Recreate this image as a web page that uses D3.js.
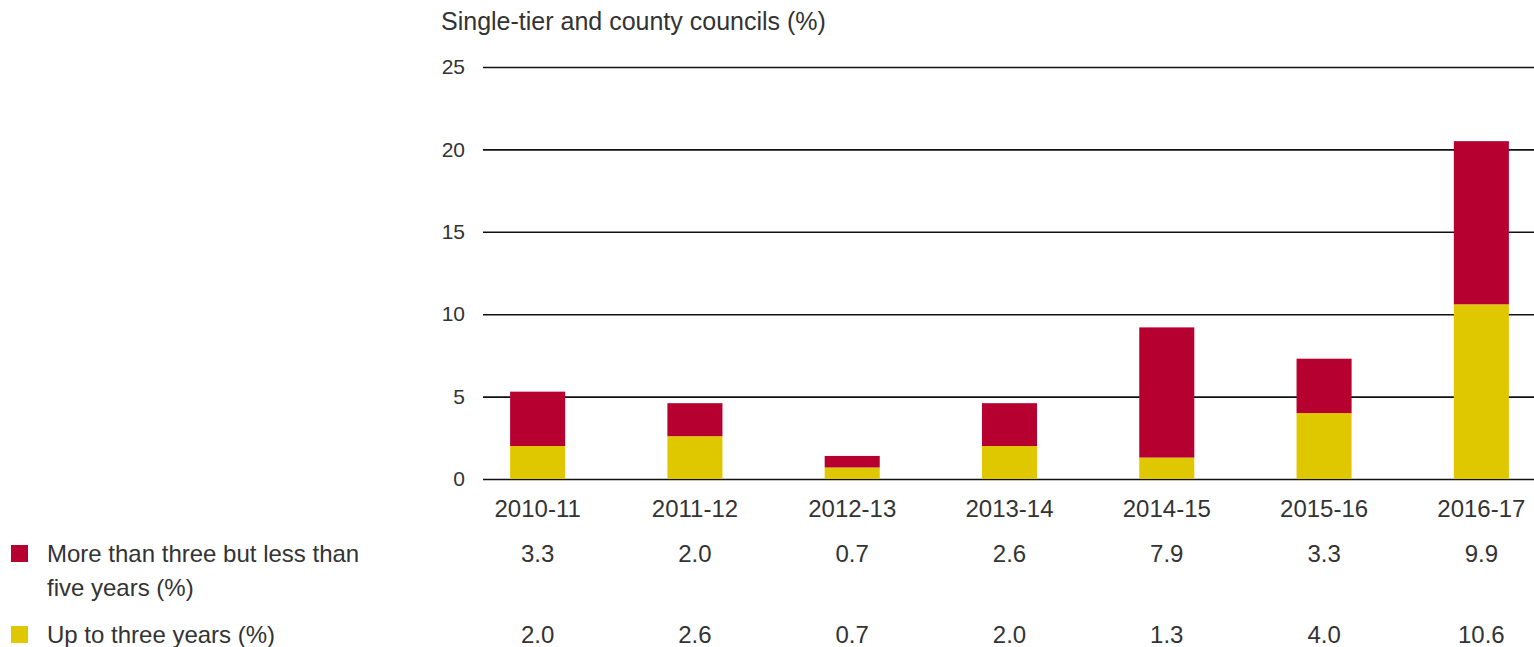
<!DOCTYPE html>
<head>
    <title>Councils chart</title>
    <script src="https://cdnjs.cloudflare.com/ajax/libs/d3/7.1.1/d3.min.js"></script>
    <style>
        body { margin: 0; background: #fff; }
        text { font-family: "Liberation Sans", Arial, sans-serif; fill: #333; }
    </style>
</head>
<body>
    <div id="chart"></div>
    <script type="text/javascript">
        const years = ["2010-11", "2011-12", "2012-13", "2013-14", "2014-15", "2015-16", "2016-17"];
        const upToThree = [2.0, 2.6, 0.7, 2.0, 1.3, 4.0, 10.6];
        const threeToFive = [3.3, 2.0, 0.7, 2.6, 7.9, 3.3, 9.9];
        const yTicks = [0, 5, 10, 15, 20, 25];
        const seriesNames = ["More than three but less than five years (%)", "Up to three years (%)"];
        const colors = ["#b50030", "#e0c800"];

        const width = 1534;
        const height = 647;

        const svg = d3.select("#chart")
            .append("svg")
            .attr("width", width)
            .attr("height", height);

        // Scales
        const xScale = d3.scaleBand()
            .domain(years)
            .range([459, 1560])
            .paddingInner(0.65)
            .paddingOuter(0.325);

        const yScale = d3.scaleLinear()
            .domain([0, 25])
            .range([479, 67]);

        // title
        svg.append("text")
            .attr("x", 441)
            .attr("y", 30)
            .attr("font-size", 25)
            .text("Single-tier and county councils (%)");

        // gridlines + y labels
        const yAxis = d3.axisLeft(yScale)
            .tickValues(yTicks)
            .tickSize(-(width - 483))
            .tickPadding(18);

        const gy = svg.append("g")
            .attr("class", "axis y")
            .attr("transform", "translate(483,0)")
            .call(yAxis);
        gy.select(".domain").remove();
        gy.selectAll("line").attr("stroke", "#111").attr("stroke-width", 1.6);
        gy.selectAll("text")
            .attr("font-size", 21)
            .attr("fill", "#444")
            .attr("x", -18);

        // stacked bars
        const rows = years.map((y, i) => ({ year: y, up: upToThree[i], more: threeToFive[i] }));

        const bars = svg.append("g").attr("class", "bars");
        bars.selectAll("rect.up")
            .data(rows)
            .enter()
            .append("rect")
            .attr("class", "up")
            .attr("x", d => xScale(d.year))
            .attr("y", d => yScale(d.up))
            .attr("width", xScale.bandwidth())
            .attr("height", d => yScale(0) - yScale(d.up))
            .attr("fill", colors[1]);
        bars.selectAll("rect.more")
            .data(rows)
            .enter()
            .append("rect")
            .attr("class", "more")
            .attr("x", d => xScale(d.year))
            .attr("y", d => yScale(d.up + d.more))
            .attr("width", xScale.bandwidth())
            .attr("height", d => yScale(d.up) - yScale(d.up + d.more))
            .attr("fill", colors[0]);

        // x labels
        const xAxis = d3.axisBottom(xScale).tickSize(0).tickPadding(0);
        const gx = svg.append("g")
            .attr("class", "axis x")
            .attr("transform", "translate(0,517)")
            .call(xAxis);
        gx.select(".domain").remove();
        gx.selectAll("text").attr("font-size", 24).attr("dy", 0);

        // data table
        const tableRows = [threeToFive, upToThree];
        const tableY = [562, 643];
        tableRows.forEach((vals, r) => {
            svg.append("g")
                .selectAll("text")
                .data(vals)
                .enter()
                .append("text")
                .attr("x", (d, i) => xScale(years[i]) + xScale.bandwidth() / 2)
                .attr("y", tableY[r])
                .attr("text-anchor", "middle")
                .attr("font-size", 24)
                .text(d => d.toFixed(1));
        });

        // legend
        const legend = svg.append("g").attr("class", "legend");
        legend.selectAll("rect")
            .data(colors)
            .enter()
            .append("rect")
            .attr("x", 11)
            .attr("y", (d, i) => tableY[i] - 17)
            .attr("width", 17)
            .attr("height", 17)
            .attr("fill", d => d);

        legend.append("text")
            .attr("x", 47)
            .attr("y", tableY[0])
            .attr("font-size", 24)
            .text("More than three but less than");
        legend.append("text")
            .attr("x", 47)
            .attr("y", tableY[0] + 34)
            .attr("font-size", 24)
            .text("five years (%)");
        legend.append("text")
            .attr("x", 47)
            .attr("y", tableY[1])
            .attr("font-size", 24)
            .text(seriesNames[1]);
    </script>
</body>
